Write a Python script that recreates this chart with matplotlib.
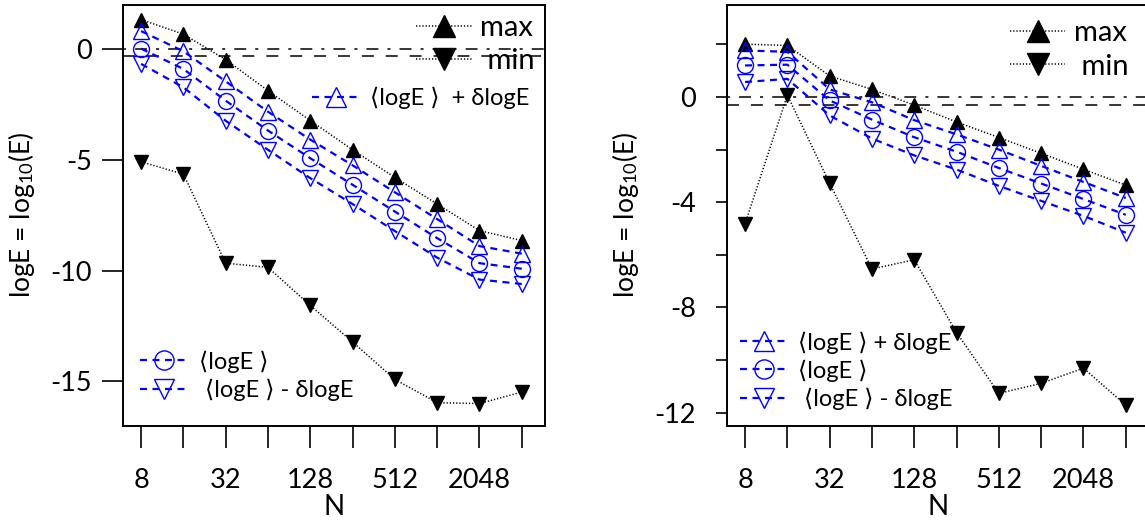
import numpy as np
import matplotlib
matplotlib.use('Agg')
import matplotlib.pyplot as plt
from matplotlib.ticker import NullLocator

plt.rcParams['font.family'] = ['Lato', 'DejaVu Sans']
plt.rcParams['axes.unicode_minus'] = False
plt.rcParams['mathtext.fontset'] = 'custom'
plt.rcParams['mathtext.rm'] = 'Lato'
plt.rcParams['mathtext.it'] = 'Lato:italic'
plt.rcParams['lines.scale_dashes'] = False

# data
N = [8, 16, 32, 64, 128, 256, 512, 1024, 2048, 4096]
xtick_labels = ['8', '', '32', '', '128', '', '512', '', '2048', '']

# left panel
left_max = [1.34, 0.68, -0.47, -1.87, -3.22, -4.54, -5.79, -6.99, -8.19, -8.64]
left_plus = [0.82, -0.09, -1.45, -2.82, -4.08, -5.24, -6.46, -7.67, -8.89, -9.23]
left_mean = [0.03, -0.89, -2.32, -3.67, -4.92, -6.12, -7.33, -8.53, -9.66, -9.91]
left_minus = [-0.66, -1.72, -3.23, -4.54, -5.82, -6.99, -8.21, -9.41, -10.40, -10.60]
left_min = [-5.08, -5.64, -9.66, -9.85, -11.57, -13.22, -14.91, -15.96, -16.00, -15.48]

# right panel
right_max = [2.01, 1.96, 0.80, 0.29, -0.31, -0.95, -1.54, -2.14, -2.75, -3.35]
right_plus = [1.77, 1.72, 0.29, -0.20, -0.88, -1.42, -2.00, -2.62, -3.23, -3.84]
right_mean = [1.20, 1.23, -0.13, -0.86, -1.53, -2.08, -2.70, -3.29, -3.88, -4.48]
right_minus = [0.57, 0.69, -0.70, -1.58, -2.22, -2.76, -3.38, -3.95, -4.52, -5.16]
right_min = [-4.82, 0.07, -3.28, -6.54, -6.19, -8.96, -11.27, -10.89, -10.31, -11.72]

ref_zero = 0.0
ref_half = np.log10(0.5)

left_yticks = [0, -5, -10, -15]
left_ylabels = ['0', '-5', '-10', '-15']
right_yticks = [2, 0, -2, -4, -6, -8, -10, -12]
right_ylabels = ['', '0', '', '-4', '', '-8', '', '-12']

lab_plus = '⟨logE ⟩ + δlogE'
lab_mean = '⟨logE ⟩'
lab_minus = ' ⟨logE ⟩ - δlogE'

BLUE = '#0000ff'
blue_kw = dict(color=BLUE, lw=1.6, linestyle=(0, (5, 4)), mfc='none', mec=BLUE, mew=1.0, ms=11.5)
black_kw = dict(color='black', lw=1.1, linestyle=(0, (0.9, 1.4)), mfc='black', mec='black', ms=10)


def setup(ax, ylim, yticks, ylabels, ytick_len, ytick_pad):
    ax.set_xscale('log', base=2)
    ax.set_xlim(2 ** 2.58, 2 ** 12.56)
    ax.set_ylim(*ylim)
    ax.set_xticks(N)
    ax.set_xticklabels(xtick_labels)
    ax.xaxis.set_minor_locator(NullLocator())
    ax.set_yticks(yticks)
    ax.set_yticklabels(ylabels)
    ax.tick_params(axis='x', length=15.5, width=1.2, pad=15, labelsize=19.5)
    ax.tick_params(axis='y', length=ytick_len, width=1.2, pad=ytick_pad, labelsize=19.5)
    for s in ax.spines.values():
        s.set_linewidth(1.4)
    ax.axhline(ref_zero, color='black', lw=1.1, linestyle=(0, (2.2, 6.5, 8.6, 6.5)), zorder=1)
    ax.axhline(ref_half, color='black', lw=1.1, linestyle=(0, (8.6, 8.6)), zorder=1)
    ax.set_xlabel('N', fontsize=20, labelpad=1)
    ax.set_ylabel('logE = log$_{10}$(E)', fontsize=19)
    ax.yaxis.set_label_coords(-0.205, 0.5)


def series(ax, ymax, yplus, ymean, yminus, ymin):
    h = {}
    h['max'], = ax.plot(N, ymax, marker='^', **black_kw)
    h['min'], = ax.plot(N, ymin, marker='v', **black_kw)
    h['plus'], = ax.plot(N, yplus, marker='^', **blue_kw)
    h['mean'], = ax.plot(N, ymean, marker='o', **blue_kw)
    h['minus'], = ax.plot(N, yminus, marker='v', **blue_kw)
    return h


fig = plt.figure(figsize=(11.45, 5.24), dpi=100)
ax1 = fig.add_axes([0.1077, 0.1876, 0.3687, 0.8029])
ax2 = fig.add_axes([0.6352, 0.1876, 0.3687, 0.8029])

setup(ax1, (-17, 2), left_yticks, left_ylabels, 15, 7.6)
setup(ax2, (-12.5, 3.5), right_yticks, right_ylabels, 7.6, 15)

h1 = series(ax1, left_max, left_plus, left_mean, left_minus, left_min)
h2 = series(ax2, right_max, right_plus, right_mean, right_minus, right_min)

leg_kw = dict(frameon=False, borderpad=0, borderaxespad=0, numpoints=1)

# left panel legends
lA = ax1.legend([h1['max'], h1['min']], ['max', ' min'], loc='center right',
                bbox_to_anchor=(0.975, 0.906), fontsize=21, handlelength=1.9,
                handletextpad=0.3, labelspacing=0.25, markerscale=1.6, **leg_kw)
ax1.add_artist(lA)
lB = ax1.legend([h1['plus']], ['⟨logE ⟩  + δlogE'], loc='center right',
                bbox_to_anchor=(0.963, 0.779), fontsize=17, handlelength=2.05,
                handletextpad=0.42, markerscale=1.2, **leg_kw)
ax1.add_artist(lB)
ax1.legend([h1['mean'], h1['minus']], [lab_mean, lab_minus], loc='center left',
           bbox_to_anchor=(0.04, 0.119), fontsize=17, handlelength=2.05,
           handletextpad=0.42, labelspacing=0.25, markerscale=1.2, **leg_kw)

# right panel legends
rA = ax2.legend([h2['max'], h2['min']], ['max', ' min'], loc='center right',
                bbox_to_anchor=(0.951, 0.893), fontsize=21, handlelength=1.9,
                handletextpad=0.3, labelspacing=0.25, markerscale=1.6, **leg_kw)
ax2.add_artist(rA)
ax2.legend([h2['plus'], h2['mean'], h2['minus']], [lab_plus, lab_mean, lab_minus],
           loc='center left', bbox_to_anchor=(0.03, 0.131), fontsize=17,
           handlelength=2.05, handletextpad=0.42, labelspacing=0.25, markerscale=1.2,
           **leg_kw)

fig.savefig('out.png', dpi=100)
